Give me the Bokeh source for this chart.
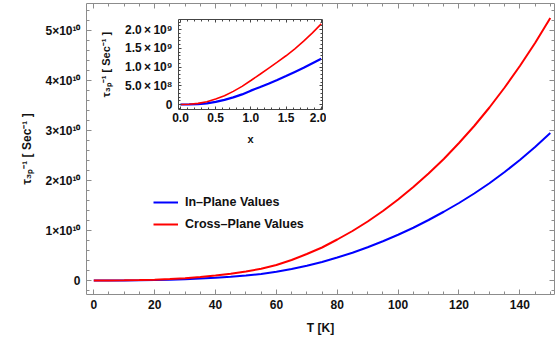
import numpy as np
from bokeh.plotting import figure
from bokeh.models import LinearAxis, FixedTicker, Range1d
from bokeh.layouts import column
from bokeh.embed import file_html
from bokeh.resources import INLINE

# ---------------- data ----------------
T_K = [0, 5, 10, 15, 20, 25, 30, 35, 40, 45, 50, 55, 60, 65, 70, 75, 80, 85, 90, 95,
       100, 105, 110, 115, 120, 125, 130, 135, 140, 145, 150]
in_plane = [0.0, 0.0003e10, 0.0015e10, 0.004e10, 0.009e10, 0.016e10, 0.026e10, 0.040e10,
            0.055e10, 0.076e10, 0.100e10, 0.130e10, 0.175e10, 0.230e10, 0.295e10, 0.370e10,
            0.460e10, 0.555e10, 0.665e10, 0.785e10, 0.915e10, 1.055e10, 1.210e10, 1.375e10,
            1.550e10, 1.740e10, 1.945e10, 2.170e10, 2.410e10, 2.670e10, 2.950e10]
cross_plane = [0.0, 0.0006e10, 0.003e10, 0.008e10, 0.016e10, 0.029e10, 0.047e10, 0.070e10,
               0.098e10, 0.135e10, 0.180e10, 0.235e10, 0.310e10, 0.410e10, 0.530e10, 0.660e10,
               0.820e10, 0.990e10, 1.180e10, 1.390e10, 1.620e10, 1.870e10, 2.140e10, 2.430e10,
               2.750e10, 3.090e10, 3.460e10, 3.860e10, 4.290e10, 4.750e10, 5.250e10]

inset_x = [0.0, 0.125, 0.25, 0.375, 0.5, 0.625, 0.75, 0.875, 1.0,
           1.125, 1.25, 1.375, 1.5, 1.625, 1.75, 1.875, 2.0]
inset_in_plane = [0.0, 0.002e9, 0.010e9, 0.030e9, 0.070e9, 0.125e9, 0.190e9, 0.270e9, 0.370e9,
                  0.460e9, 0.555e9, 0.655e9, 0.760e9, 0.870e9, 0.980e9, 1.100e9, 1.220e9]
inset_cross_plane = [0.0, 0.005e9, 0.030e9, 0.075e9, 0.150e9, 0.235e9, 0.350e9, 0.485e9, 0.640e9,
                     0.800e9, 0.965e9, 1.130e9, 1.300e9, 1.485e9, 1.690e9, 1.910e9, 2.150e9]

series_names = ["In\u2013Plane Values", "Cross\u2013Plane Values"]

main_x_ticks = [0, 20, 40, 60, 80, 100, 120, 140]
main_y_ticks = [0, 1e10, 2e10, 3e10, 4e10, 5e10]
main_y_labels = ["0", "1×10¹⁰", "2×10¹⁰", "3×10¹⁰", "4×10¹⁰", "5×10¹⁰"]
inset_x_ticks = [0.0, 0.5, 1.0, 1.5, 2.0]
inset_x_labels = ["0.0", "0.5", "1.0", "1.5", "2.0"]
inset_y_ticks = [0, 5e8, 1e9, 1.5e9, 2e9]
inset_y_labels = ["0", "5.0\u2009×\u200910⁸", "1.0\u2009×\u200910⁹", "1.5\u2009×\u200910⁹",
                  "2.0\u2009×\u200910⁹"]

y_label = "τ₃ₚ⁻¹ [ Sec⁻¹ ]"
x_label = "T [K]"
inset_x_label = "x"

FONT = "Liberation Sans"
BLUE = "#0000ff"
RED = "#ff0000"


def add_frame_axes(fig, xt, xminor, yt, yminor, xover, yover, xlab, ylab,
                   frame_color, label_size, axis_label_size, tick_in, minor_in,
                   xstand, ystand, xlabstand, ylabstand):
    for side in ["below", "above", "left", "right"]:
        horiz = side in ("below", "above")
        ticks = xt if horiz else yt
        minor = xminor if horiz else yminor
        ax = LinearAxis(ticker=FixedTicker(ticks=ticks, minor_ticks=minor))
        ax.axis_line_color = frame_color
        ax.major_tick_line_color = frame_color
        ax.minor_tick_line_color = frame_color
        ax.major_tick_in = tick_in
        ax.major_tick_out = 0
        ax.minor_tick_in = minor_in
        ax.minor_tick_out = 0
        ax.major_label_text_font = FONT
        ax.major_label_text_font_style = "bold"
        ax.axis_label_text_font = FONT
        ax.axis_label_text_font_style = "bold"
        ax.axis_label_text_color = "#111111"
        ax.axis_label_text_font_size = axis_label_size
        if side in ("below", "left"):
            ax.major_label_text_color = "#111111"
            ax.major_label_text_font_size = label_size
            if horiz:
                ax.axis_label = xlab
                ax.major_label_standoff = xstand
                ax.axis_label_standoff = xlabstand
                if xover:
                    ax.major_label_overrides = xover
            else:
                ax.axis_label = ylab
                ax.major_label_standoff = ystand
                ax.axis_label_standoff = ylabstand
                if yover:
                    ax.major_label_overrides = yover
        else:
            # mirrored frame side: ticks only, labels not painted
            ax.major_label_text_color = None
            ax.major_label_text_font_size = "1px"
            ax.major_label_standoff = 0
            ax.axis_label_standoff = 0
        fig.add_layout(ax, side)


# ---------------- main figure ----------------
p = figure(width=558, height=342,
           x_range=Range1d(-2.39, 151.38), y_range=Range1d(-0.28e10, 5.54e10),
           output_backend="svg", toolbar_location=None,
           x_axis_location=None, y_axis_location=None,
           min_border_left=86, min_border_right=3, min_border_top=3, min_border_bottom=48)
p.grid.visible = False
p.outline_line_color = None
p.background_fill_color = "white"

add_frame_axes(p, main_x_ticks, list(np.arange(0, 151, 5)),
               main_y_ticks, list(np.arange(-0.2e10, 5.41e10, 0.2e10)),
               None, dict(zip(main_y_ticks, main_y_labels)), x_label, y_label,
               "#8c8c8c", "12px", "12px", 5, 3, 5, 6, 9, 8)

p.line(T_K, in_plane, color=BLUE, line_width=2, legend_label=series_names[0])
p.line(T_K, cross_plane, color=RED, line_width=2, legend_label=series_names[1])

lg = p.legend[0]
lg.location = (67, 60)
lg.border_line_color = None
lg.background_fill_alpha = 0
lg.padding = 0
lg.margin = 0
lg.spacing = 2
lg.glyph_width = 25
lg.glyph_height = 20
lg.label_height = 20
lg.label_standoff = 7
lg.label_text_font = FONT
lg.label_text_font_style = "bold"
lg.label_text_font_size = "12.5px"
lg.label_text_color = "#111111"

# ---------------- inset figure ----------------
ins = figure(width=234, height=134,
             x_range=Range1d(-0.028, 2.018), y_range=Range1d(-0.133e9, 2.267e9),
             output_backend="svg", toolbar_location=None,
             x_axis_location=None, y_axis_location=None,
             min_border_left=85, min_border_right=4, min_border_top=4, min_border_bottom=40,
             styles={"position": "absolute", "left": "92px", "top": "15px", "z-index": "2"})
ins.grid.visible = False
ins.outline_line_color = None
ins.background_fill_color = "white"
ins.border_fill_alpha = 0

add_frame_axes(ins, inset_x_ticks, list(np.arange(0, 2.01, 0.1)),
               inset_y_ticks, list(np.arange(-1e8, 2.21e9, 1e8)),
               dict(zip(inset_x_ticks, inset_x_labels)), dict(zip(inset_y_ticks, inset_y_labels)),
               inset_x_label, y_label,
               "#444444", "12px", "11px", 3, 2, 3, 6, 8, 10)

ins.line(inset_x, inset_in_plane, color=BLUE, line_width=2.2)
ins.line(inset_x, inset_cross_plane, color=RED, line_width=1.6)

layout = column(p, ins)
open("out.html", "w").write(file_html(layout, INLINE))
